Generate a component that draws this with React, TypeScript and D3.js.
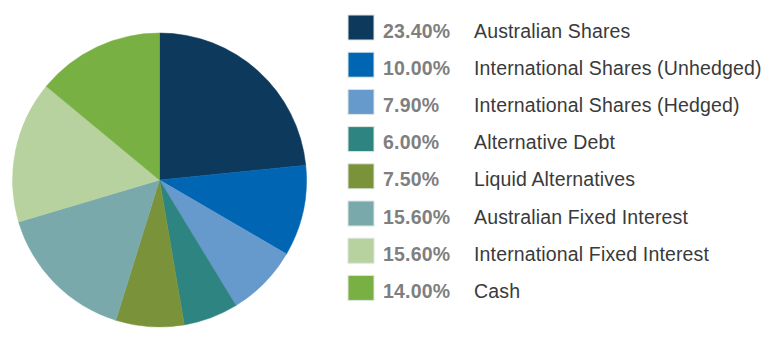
import React from "react";
import * as d3 from "d3";

const categories = [
  "Australian Shares",
  "International Shares (Unhedged)",
  "International Shares (Hedged)",
  "Alternative Debt",
  "Liquid Alternatives",
  "Australian Fixed Interest",
  "International Fixed Interest",
  "Cash",
];
const values = [23.4, 10.0, 7.9, 6.0, 7.5, 15.6, 15.6, 14.0];
const colors = [
  "#0d3a5c",
  "#0066b3",
  "#6699cc",
  "#2e8480",
  "#7a933b",
  "#7aa9ab",
  "#b7d29f",
  "#78b043",
];

export default function App() {
  const width = 784;
  const height = 358;
  const cx = 159.5;
  const cy = 180;
  const r = 147;

  const data = categories.map((c, i) => ({ name: c, value: values[i], color: colors[i] }));
  const pie = d3.pie<any>().value((d) => d.value).sort(null);
  const arcs = pie(data);
  const arc = d3.arc<any>().innerRadius(0).outerRadius(r);

  const legendX = 348;
  const legendY0 = 15;
  const rowH = 37.2;
  const sq = 26;

  return (
    <svg
      width={width}
      height={height}
      style={{ position: "absolute", left: 0, top: 0, background: "#fff" }}
    >
      <g transform={`translate(${cx},${cy})`}>
        {arcs.map((a, i) => (
          <path key={i} d={arc(a) as string} fill={a.data.color} stroke={a.data.color} strokeWidth={0.5} />
        ))}
      </g>
      <g fontFamily="'Liberation Sans', Arial, Helvetica, sans-serif">
        {data.map((d, i) => {
          const y = legendY0 + i * rowH;
          return (
            <g key={i} transform={`translate(${legendX},${y})`}>
              <rect x={0} y={0} width={sq} height={25} fill={d.color} stroke="#dde6e0" strokeWidth={1} />
              <text x={35} y={22.5} fontSize={19.5} fontWeight="bold" fill="#7f7f7f" letterSpacing={0.2}>
                {d.value.toFixed(2) + "%"}
              </text>
              <text x={126} y={22.5} fontSize={19.5} fill="#3a3a3a" letterSpacing={0.15}>
                {d.name}
              </text>
            </g>
          );
        })}
      </g>
    </svg>
  );
}
